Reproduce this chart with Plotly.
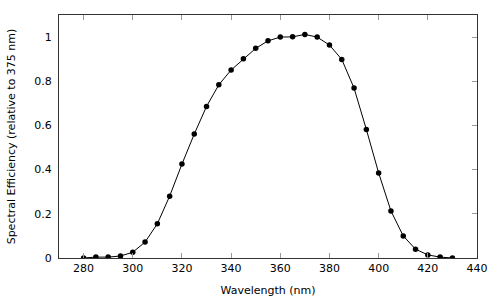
import plotly.graph_objects as go

wavelength = [280, 285, 290, 295, 300, 305, 310, 315, 320, 325, 330, 335, 340, 345, 350,
              355, 360, 365, 370, 375, 380, 385, 390, 395, 400, 405, 410, 415, 420, 425, 430]
efficiency = [0.0, 0.004, 0.004, 0.009, 0.026, 0.072, 0.155, 0.28, 0.425, 0.561, 0.686, 0.784,
              0.851, 0.902, 0.949, 0.983, 1.0, 1.001, 1.012, 1.0, 0.964, 0.899, 0.769, 0.582,
              0.385, 0.213, 0.1, 0.04, 0.014, 0.004, 0.0]

fig = go.Figure()
fig.add_trace(go.Scatter(
    x=wavelength, y=efficiency, mode="lines+markers",
    line=dict(color="black", width=1),
    marker=dict(color="black", size=5.5),
    showlegend=False,
))
# invisible trace for right-side ticks
fig.add_trace(go.Scatter(x=[wavelength[0]], y=[efficiency[0]], yaxis="y2",
                         mode="markers", marker=dict(opacity=0), showlegend=False,
                         hoverinfo="skip"))

font = dict(family="DejaVu Sans", size=11, color="black")
fig.update_layout(
    width=498, height=299,
    margin=dict(l=59, r=21, t=15, b=41),
    plot_bgcolor="white", paper_bgcolor="white",
    font=font,
    xaxis=dict(range=[270, 440], dtick=20, tick0=280, ticks="inside", ticklen=5,
               tickcolor="#999999", mirror="ticks", showline=True, linecolor="#333333",
               linewidth=1, showgrid=False, zeroline=False, automargin=False,
               title=dict(text="Wavelength (nm)", font=font, standoff=12)),
    yaxis=dict(range=[0, 1.1], tickvals=[0, 0.2, 0.4, 0.6, 0.8, 1],
               ticktext=["0", "0.2", "0.4", "0.6", "0.8", "1"],
               ticks="outside", ticklen=4, tickcolor="rgba(0,0,0,0)",
               showline=True, mirror=True, linecolor="#333333", linewidth=1,
               showgrid=False, zeroline=False, automargin=False,
               title=dict(text="Spectral Efficiency (relative to 375 nm)", font=font, standoff=16)),
    yaxis2=dict(range=[0, 1.1], overlaying="y", side="right",
                tickvals=[0, 0.2, 0.4, 0.6, 0.8, 1], ticks="inside", ticklen=5,
                tickcolor="#999999", showticklabels=False, showgrid=False, zeroline=False,
                showline=False, automargin=False),
)
fig.write_html("out.html", config={"displayModeBar": False},
               post_script="document.body.style.margin='0px';document.body.style.padding='0px';")
